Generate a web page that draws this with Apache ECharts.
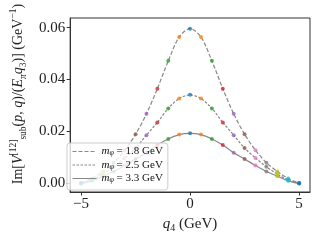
<!DOCTYPE html>
<html><head><meta charset="utf-8">
<script src="https://cdn.jsdelivr.net/npm/echarts@6/dist/echarts.min.js"></script>
<style>html,body{margin:0;padding:0;background:#fff}#c{width:320px;height:240px}</style>
</head><body><div id="c"></div>
<script>
// q4 values (GeV)
const q4 = [-5,-4.5,-4,-3.5,-3,-2.5,-2,-1.5,-1,-0.5,0,0.5,1,1.5,2,2.5,3,3.5,4,4.5,5];
// Im[V_sub^[12]/(E_pi q3)] for three masses
const m18 = [0.0002,0.0019,0.0046,0.0080,0.0128,0.0189,0.0268,0.0365,0.0472,0.0564,0.0596,0.0564,0.0472,0.0365,0.0268,0.0189,0.0128,0.0080,0.0046,0.0019,0.0002];
const m25 = [0.0001,0.0013,0.0036,0.0064,0.0098,0.0136,0.0186,0.0235,0.0289,0.0327,0.0341,0.0327,0.0289,0.0235,0.0186,0.0136,0.0098,0.0064,0.0036,0.0013,0.0001];
const m33 = [0.0000,0.0010,0.0028,0.0046,0.0069,0.0094,0.0118,0.0148,0.0171,0.0188,0.0193,0.0188,0.0171,0.0148,0.0118,0.0094,0.0069,0.0046,0.0028,0.0010,0.0000];
const seriesNames = ['m18','m25','m33'];
const legendLabels = {m18:'1.8', m25:'2.5', m33:'3.3'};
const xTicks = [-5,0,5];
const yTicks = [0,0.02,0.04,0.06];
const tab10 = ['#1f77b4','#ff7f0e','#2ca02c','#d62728','#9467bd','#8c564b','#e377c2','#7f7f7f','#bcbd22','#17becf'];

const FONT = 'Liberation Serif';
const pair = arr => q4.map((x,i)=>[x,arr[i]]);
const colorFor = x => tab10[Math.round(Math.abs(x)/0.5)%10];
const pts = arr => q4.map((x,i)=>({value:[x,arr[i]], itemStyle:{color:colorFor(x)}}));

const lineStyles = {m18:{type:[4,2]}, m25:{type:[2.5,1.5]}, m33:{type:'solid'}};
const data = {m18, m25, m33};

const series = [];
seriesNames.forEach(n=>{
  series.push({name:n, type:'line', data:pair(data[n]), smooth:0.3, symbol:'none',
    lineStyle:Object.assign({color:'#888', width:1.2}, lineStyles[n]), itemStyle:{color:'#888'}, z:2, silent:true, animation:false});
});
seriesNames.forEach(n=>{
  series.push({name:n+'_pts', type:'scatter', data:pts(data[n]), symbolSize:4, z:3, animation:false});
});

const chart = echarts.init(document.getElementById('c'), null, {renderer:'canvas'});
chart.setOption({
  animation:false,
  grid:{left:65, right:10, top:18, bottom:48, show:true, borderColor:'#333', borderWidth:1, containLabel:false},
  legend:{
    data:seriesNames, orient:'vertical', left:67, top:143,
    itemWidth:24, itemHeight:10, itemGap:2.5, padding:[3,5,6,5],
    backgroundColor:'rgba(255,255,255,0.8)', borderColor:'#ccc', borderWidth:1, borderRadius:3,
    formatter: n => '{i|m}{s|φ}{t| = '+legendLabels[n]+' GeV}',
    textStyle:{fontFamily:FONT, fontSize:11, color:'#111', rich:{
      i:{fontFamily:FONT, fontStyle:'italic', fontSize:11, lineHeight:11},
      s:{fontFamily:FONT, fontStyle:'italic', fontSize:8, lineHeight:8, verticalAlign:'bottom'},
      t:{fontFamily:FONT, fontSize:11, lineHeight:11}
    }},
    itemStyle:{opacity:0},
    lineStyle:{color:'#888', width:1}
  },
  xAxis:{type:'value', min:-5.5, max:5.5,
    axisLine:{show:true, onZero:false, lineStyle:{color:'#333'}},
    axisTick:{show:true, length:3.5, customValues:xTicks, lineStyle:{color:'#333'}},
    axisLabel:{customValues:xTicks, fontFamily:FONT, fontSize:15, color:'#222', margin:5,
      formatter:v=> (v<0?'\u2212'+Math.abs(v):String(v))},
    splitLine:{show:false},
    name:'{i|q}{s|4}{t| (GeV)}', nameLocation:'middle', nameGap:12,
    nameTextStyle:{fontFamily:FONT, fontSize:15, color:'#222', rich:{
      i:{fontFamily:FONT, fontStyle:'italic', fontSize:15, lineHeight:18},
      s:{fontFamily:FONT, fontSize:10, lineHeight:11, verticalAlign:'bottom'},
      t:{fontFamily:FONT, fontSize:15, lineHeight:18}
    }}
  },
  yAxis:{type:'value', min:-0.0033, max:0.0637,
    axisLine:{show:true, onZero:false, lineStyle:{color:'#333'}},
    axisTick:{show:true, length:3.5, customValues:yTicks, lineStyle:{color:'#333'}},
    axisLabel:{customValues:yTicks, fontFamily:FONT, fontSize:15, color:'#222', margin:5,
      formatter:v=>v.toFixed(2)},
    splitLine:{show:false},
    name:'{t|Im[}{i|V}{sup|[12]}{sub|sub}{t|(}{i|p}{t|, }{i|q}{t|)/(}{i|E}{si|π}{i|q}{sub|3}{t|)] (GeV}{sup|−1}{t|)}',
    nameLocation:'middle', nameGap:36, nameRotate:90,
    nameTextStyle:{fontFamily:FONT, fontSize:14, color:'#222', padding:[0,0,0,22], rich:{
      t:{fontFamily:FONT, fontSize:14, lineHeight:20},
      i:{fontFamily:FONT, fontStyle:'italic', fontSize:14, lineHeight:20},
      sup:{fontFamily:FONT, fontSize:9.5, lineHeight:12, verticalAlign:'top'},
      sub:{fontFamily:FONT, fontSize:9.5, lineHeight:12, verticalAlign:'bottom'},
      si:{fontFamily:FONT, fontStyle:'italic', fontSize:9.5, lineHeight:12, verticalAlign:'bottom'}
    }}
  },
  series
});
</script></body></html>
